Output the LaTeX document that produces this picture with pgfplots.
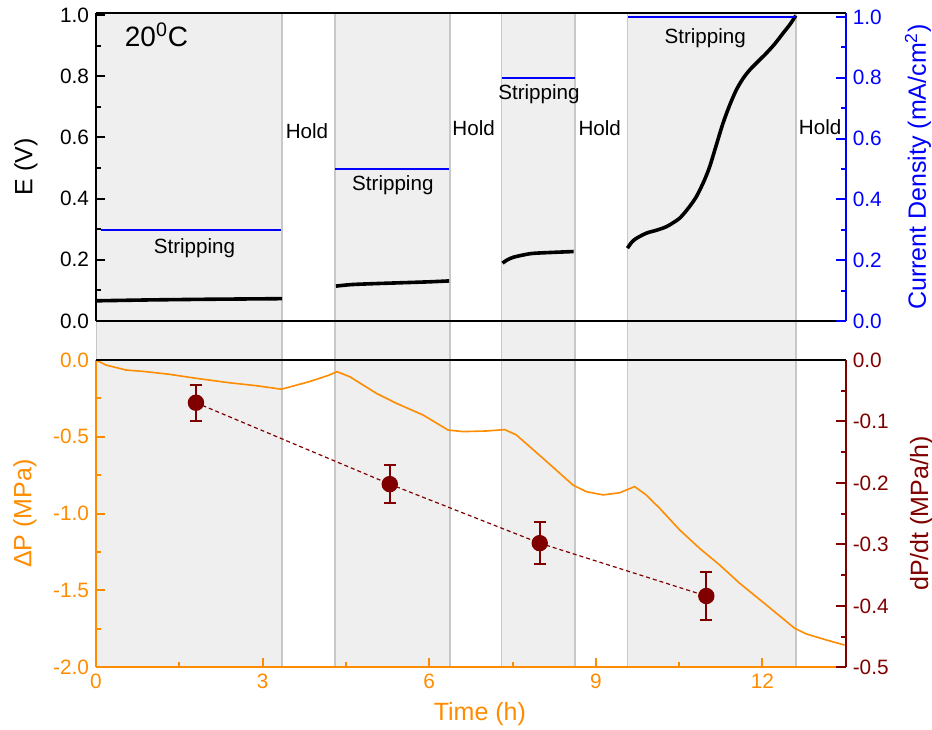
\documentclass[border=0pt]{standalone}
\usepackage{pgfplots}
\pgfplotsset{compat=1.18}
\usepackage{fontspec}
\setmainfont{Liberation Sans}

\definecolor{porange}{RGB}{255,140,0}
\definecolor{pred}{RGB}{128,0,0}
\definecolor{pblue}{RGB}{0,0,255}
\definecolor{shade}{RGB}{239,239,239}
\definecolor{divider}{RGB}{200,200,200}

\pgfplotsset{
  every axis/.append style={
    font=\fontsize{10.4}{12}\selectfont,
    /pgf/number format/assume math mode=true,
    scale only axis, width=374.85pt,
    xmin=0, xmax=13.5,
    tick align=inside,
    major tick length=4.7pt, minor tick length=2.5pt,
    axis line style={-, line width=1pt},
    label style={font=\fontsize{12.5}{15}\selectfont},
  },
  onedec/.style={yticklabel style={/pgf/number format/fixed,
      /pgf/number format/precision=1, /pgf/number format/fixed zerofill}},
}
\tikzset{note/.style={font=\fontsize{10.3}{12}\selectfont, anchor=base}}

\begin{document}
\begin{tikzpicture}
\useasboundingbox (0,0) rectangle (466pt,364.5pt);

% stripping / hold periods, shaded through both panels
\begin{axis}[at={(48pt,30.85pt)}, anchor=south west, height=327.3pt,
  ymin=0, ymax=1, hide axis]
  \addplot[fill=shade, draw=none] coordinates {(0,0) (3.353,0) (3.353,1) (0,1)} -- cycle;
  \addplot[fill=shade, draw=none] coordinates {(4.30,0) (6.37,0) (6.37,1) (4.30,1)} -- cycle;
  \addplot[fill=shade, draw=none] coordinates {(7.30,0) (8.63,0) (8.63,1) (7.30,1)} -- cycle;
  \addplot[fill=shade, draw=none] coordinates {(9.57,0) (12.60,0) (12.60,1) (9.57,1)} -- cycle;
  \foreach \t in {0,3.353,4.30,6.37,7.30,8.63,9.57,12.60}{
    \edef\tmp{\noexpand\addplot[divider, line width=0.8pt] coordinates {(\t,0) (\t,1)};}
    \tmp
  }
\end{axis}

% ---------------- top panel: potential ----------------
\begin{axis}[at={(48pt,204pt)}, anchor=south west, height=154.15pt,
  ymin=0, ymax=1.0075,
  axis x line*=bottom, axis y line*=left,
  axis line style={black},
  tick style={black, line width=1pt},
  xtick=\empty,
  ytick={0,0.2,0.4,0.6,0.8,1.0}, minor y tick num=1, onedec,
  ylabel={E (V)},
  ylabel style={at={(axis description cs:-0.0934,0.5)}, anchor=center},
]
  \addplot[black, line width=1.8pt] coordinates {
    (0,0.066) (1,0.069) (2,0.071) (3.353,0.073)};
  \addplot[black, line width=1.8pt, smooth] coordinates {
    (4.32,0.114) (4.6,0.119) (5.0,0.122) (5.5,0.125) (6.0,0.128) (6.36,0.131)};
  \addplot[black, line width=1.8pt, smooth] coordinates {
    (7.32,0.189) (7.40,0.199) (7.51,0.208) (7.70,0.216) (7.87,0.221)
    (8.20,0.224) (8.60,0.227)};
  \addplot[black, line width=1.8pt, smooth] coordinates {
    (9.57,0.238) (9.65,0.258) (9.73,0.270) (9.91,0.287) (10.10,0.297)
    (10.27,0.308) (10.40,0.322) (10.51,0.336) (10.65,0.365) (10.81,0.406)
    (10.95,0.458) (11.05,0.504) (11.17,0.575) (11.29,0.646) (11.41,0.705)
    (11.53,0.755) (11.65,0.792) (11.77,0.820) (11.92,0.848) (12.07,0.875)
    (12.22,0.905) (12.37,0.940) (12.50,0.970) (12.60,0.998)};

  \node[note] at (axis cs:1.773,0.219) {Stripping};
  \node[note] at (axis cs:5.345,0.425) {Stripping};
  \node[note] at (axis cs:7.977,0.725) {Stripping};
  \node[note] at (axis cs:10.97,0.9075) {Stripping};
  \node[note] at (axis cs:3.80,0.597) {Hold};
  \node[note] at (axis cs:6.80,0.605) {Hold};
  \node[note] at (axis cs:9.07,0.605) {Hold};
  \node[note] at (axis cs:13.04,0.610) {Hold};
  \node[anchor=base, font=\fontsize{14}{16}\selectfont] at (axis cs:1.09,0.896)
    {20\textsuperscript{0}C};
\end{axis}

% ---------------- top panel: applied current density ----------------
\begin{axis}[at={(48pt,204pt)}, anchor=south west, height=154.15pt,
  ymin=0, ymax=1.014,
  axis x line*=top, axis y line*=right,
  x axis line style={black}, y axis line style={pblue},
  tick style={pblue, line width=1pt},
  xtick=\empty,
  ytick={0,0.2,0.4,0.6,0.8,1.0}, minor y tick num=1, onedec,
  yticklabel style={pblue},
  ylabel={Current Density (mA/cm\textsuperscript{2})},
  ylabel style={pblue, at={(axis description cs:1.0965,0.5)}, anchor=center},
]
  \addplot[pblue, line width=1pt] coordinates {(0.09,0.3) (3.34,0.3)};
  \addplot[pblue, line width=1pt] coordinates {(4.31,0.5) (6.36,0.5)};
  \addplot[pblue, line width=1pt] coordinates {(7.31,0.8) (8.62,0.8)};
  \addplot[pblue, line width=1pt] coordinates {(9.58,1.0) (12.59,1.0)};
\end{axis}

% ---------------- bottom panel: pressure change ----------------
\begin{axis}[at={(48pt,30.85pt)}, anchor=south west, height=153.65pt,
  ymin=-2, ymax=0,
  axis x line*=bottom, axis y line*=left,
  axis line style={porange},
  tick style={porange, line width=1pt},
  xtick={0,3,6,9,12}, minor x tick num=1,
  ytick={-2,-1.5,-1,-0.5,0}, minor y tick num=1, onedec,
  ticklabel style={porange},
  xlabel={Time (h)}, ylabel={ΔP (MPa)},
  xlabel style={porange, at={(axis description cs:0.512,-0.152)}, anchor=center},
  ylabel style={porange, at={(axis description cs:-0.0947,0.5)}, anchor=center},
]
  \addplot[porange, line width=0.8pt] coordinates {
    (0,0) (0.18,-0.033) (0.54,-0.065) (0.90,-0.076) (1.32,-0.093)
    (1.80,-0.119) (2.40,-0.148) (2.88,-0.167) (3.34,-0.190)
    (3.84,-0.141) (4.20,-0.098) (4.34,-0.076) (4.57,-0.109)
    (5.05,-0.217) (5.41,-0.282) (5.89,-0.358) (6.34,-0.456)
    (6.61,-0.466) (7.03,-0.462) (7.36,-0.453) (7.57,-0.488)
    (8.05,-0.640) (8.59,-0.814) (8.83,-0.857) (9.13,-0.878)
    (9.43,-0.864) (9.70,-0.824) (9.91,-0.879) (10.15,-0.965)
    (10.51,-1.106) (10.87,-1.226) (11.23,-1.334) (11.59,-1.453)
    (12.07,-1.594) (12.58,-1.746) (12.79,-1.783) (13.15,-1.822)
    (13.48,-1.855)};
\end{axis}

% ---------------- bottom panel: rate of pressure change ----------------
\begin{axis}[at={(48pt,30.85pt)}, anchor=south west, height=153.65pt,
  ymin=-0.5, ymax=0,
  axis x line*=top, axis y line*=right,
  x axis line style={black}, y axis line style={pred},
  tick style={pred, line width=1pt},
  xtick=\empty,
  ytick={-0.5,-0.4,-0.3,-0.2,-0.1,0}, minor y tick num=1, onedec,
  yticklabel style={pred},
  ylabel={dP/dt (MPa/h)},
  ylabel style={pred, at={(axis description cs:1.1014,0.5)}, anchor=center},
]
  \addplot[pred, line width=0.6pt, dash pattern=on 2pt off 1.5pt,
    mark=*, mark size=3.8pt, mark options={solid},
    error bars/.cd, y dir=both, y explicit,
    error bar style={solid, line width=1pt},
    error mark options={rotate=90, mark size=3pt, line width=1pt, solid}]
    table[x=t, y=r, y error=e] {
      t     r       e
      1.80  -0.0695 0.029
      5.29  -0.202  0.031
      7.99  -0.298  0.034
      10.99 -0.384  0.039
    };
\end{axis}
\end{tikzpicture}
\end{document}
